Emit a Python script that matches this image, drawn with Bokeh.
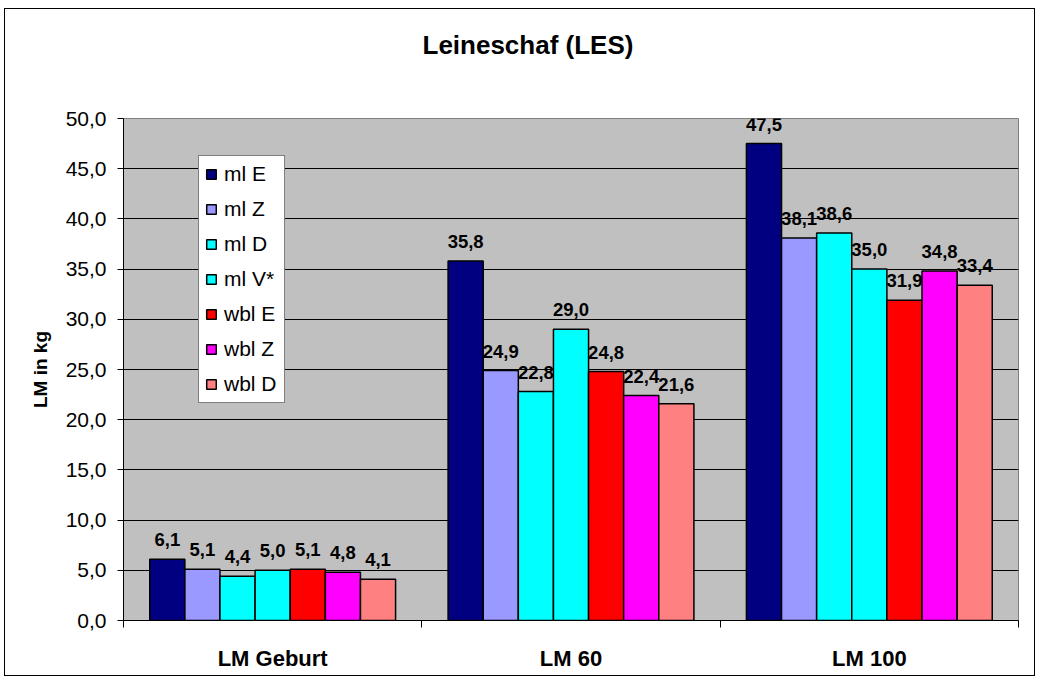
from bokeh.plotting import figure
from bokeh.models import (Range1d, FixedTicker, ColumnDataSource, LabelSet, Title)
from bokeh.core.properties import value
from bokeh.embed import file_html
from bokeh.resources import INLINE

# ---- data ----
categories = ["LM Geburt", "LM 60", "LM 100"]
series_names = ["ml E", "ml Z", "ml D", "ml V*", "wbl E", "wbl Z", "wbl D"]
ml_E = [6.1, 35.8, 47.5]
ml_Z = [5.1, 24.9, 38.1]
ml_D = [4.4, 22.8, 38.6]
ml_V = [5.0, 29.0, 35.0]
wbl_E = [5.1, 24.8, 31.9]
wbl_Z = [4.8, 22.4, 34.8]
wbl_D = [4.1, 21.6, 33.4]
series_values = [ml_E, ml_Z, ml_D, ml_V, wbl_E, wbl_Z, wbl_D]
colors = ["#000080", "#9999FF", "#00FFFF", "#00FFFF", "#FF0000", "#FF00FF", "#FF8080"]
y_ticks = [0, 5, 10, 15, 20, 25, 30, 35, 40, 45, 50]
title_text = "Leineschaf (LES)"
y_title = "LM in kg"

FONT = "Liberation Sans"

p = figure(width=1031, height=668, output_backend="svg", toolbar_location=None,
           x_range=Range1d(0, 3), y_range=Range1d(0, 50),
           min_border_left=118, min_border_top=109, min_border_right=18,
           min_border_bottom=57, title=None)
p.styles = {"border": "1px solid black", "margin-left": "4px", "margin-top": "8px"}

# spacer (closest to the frame) and title above it
spacer = Title(text=" ", text_font_size="1px", standoff=54)
p.add_layout(spacer, "above")
title = Title(text=title_text, align="left", offset=299, vertical_align="top",
              standoff=0, text_font=FONT, text_font_size="26px",
              text_font_style="bold", text_color="black")
p.add_layout(title, "above")

p.background_fill_color = "#C0C0C0"
p.border_fill_color = "white"
p.outline_line_color = "#808080"
p.outline_line_width = 1

# grid
p.xgrid.grid_line_color = None
p.ygrid.ticker = FixedTicker(ticks=y_ticks)
p.ygrid.grid_line_color = "black"
p.ygrid.grid_line_width = 1

# y axis
p.yaxis.ticker = FixedTicker(ticks=y_ticks)
p.yaxis.major_label_overrides = {t: f"{t:.1f}".replace(".", ",") for t in y_ticks}
p.yaxis.major_label_text_font = FONT
p.yaxis.major_label_text_font_size = "21px"
p.yaxis.major_label_text_color = "black"
p.yaxis.major_tick_out = 6
p.yaxis.major_tick_in = 0
p.yaxis.minor_tick_line_color = None
p.yaxis.major_label_standoff = 11
p.yaxis.axis_line_color = "black"
p.yaxis.major_tick_line_color = "black"
p.yaxis.axis_label = y_title
p.yaxis.axis_label_text_font = FONT
p.yaxis.axis_label_text_font_size = "19px"
p.yaxis.axis_label_text_font_style = "bold"
p.yaxis.axis_label_text_color = "black"
p.yaxis.axis_label_standoff = 12

# x axis
centers = [i + 0.5 for i in range(len(categories))]
bounds = [float(i) for i in range(len(categories) + 1)]
p.xaxis.ticker = FixedTicker(ticks=centers, minor_ticks=bounds)
p.xaxis.major_label_overrides = {c: name for c, name in zip(centers, categories)}
p.xaxis.major_label_text_font = FONT
p.xaxis.major_label_text_font_size = "22px"
p.xaxis.major_label_text_font_style = "bold"
p.xaxis.major_label_text_color = "black"
p.xaxis.major_tick_out = 0
p.xaxis.major_tick_in = 0
p.xaxis.major_tick_line_color = None
p.xaxis.minor_tick_out = 7
p.xaxis.minor_tick_in = 0
p.xaxis.minor_tick_line_color = "black"
p.xaxis.axis_line_color = "black"
p.xaxis.major_label_standoff = 18

# bars
n = len(series_names)
gap = 0.176
bar_w = (1 - gap) / n
for j, (name, vals, col) in enumerate(zip(series_names, series_values, colors)):
    xs = [i + 0.5 + (j - (n - 1) / 2) * bar_w for i in range(len(categories))]
    src = ColumnDataSource(dict(x=xs, top=vals,
                                label=[f"{v:.1f}".replace(".", ",") for v in vals]))
    p.vbar(x="x", top="top", width=bar_w, bottom=0, source=src,
           fill_color=col, line_color="black", line_width=1.5, legend_label=name)
    p.add_layout(LabelSet(x="x", y="top", text="label", source=src,
                          text_align="center", text_baseline="alphabetic",
                          y_offset=13, text_font=value(FONT),
                          text_font_size="18.5px", text_font_style="bold",
                          text_color="black"))

# legend
lg = p.legend[0]
lg.location = (75, 217)
lg.margin = 0
lg.padding = 6
lg.spacing = 11
lg.label_height = 24
lg.label_width = 54
lg.glyph_width = 12
lg.glyph_height = 12
lg.label_standoff = 7
lg.label_text_font = FONT
lg.label_text_font_size = "21px"
lg.label_text_color = "black"
lg.border_line_color = "black"
lg.border_line_width = 1
lg.background_fill_color = "white"
lg.background_fill_alpha = 1.0

open("out.html", "w").write(file_html(p, INLINE))
